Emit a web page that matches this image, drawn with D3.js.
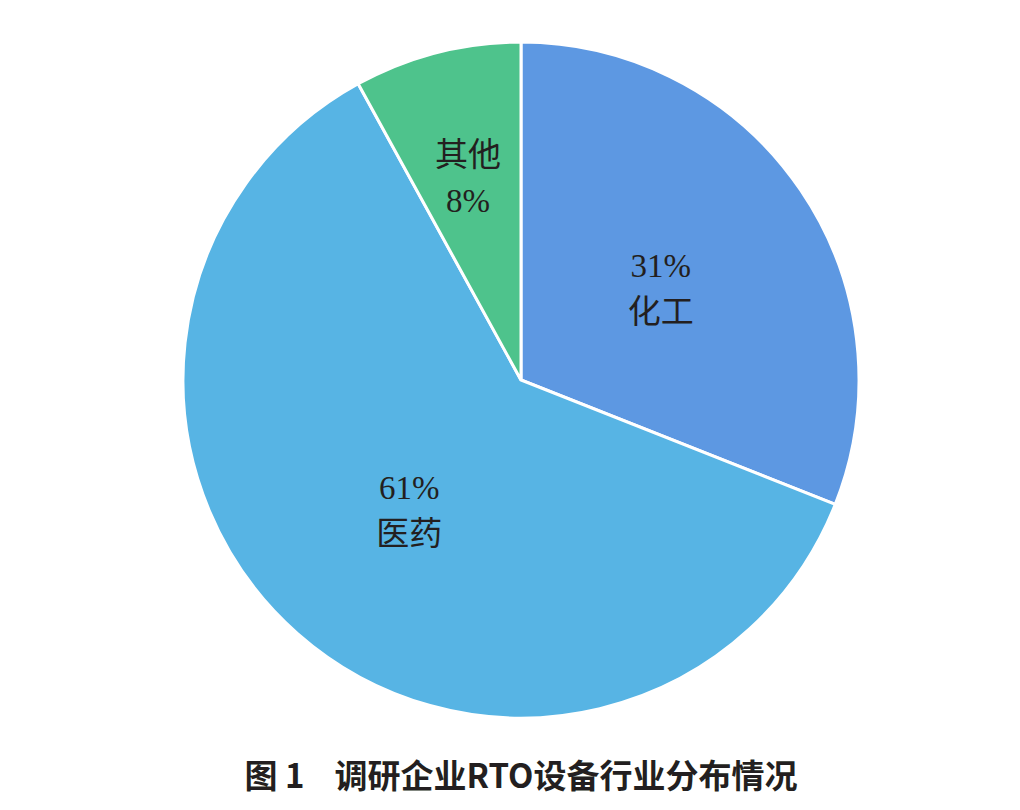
<!DOCTYPE html>
<html lang="zh">
<head>
<meta charset="UTF-8">
<script src="https://d3js.org/d3.v7.min.js"></script>
<style>
  body { margin: 0; background: #fff; }
  text { fill: #231f20; }
</style>
</head>
<body>
<svg id="chart" width="1020" height="810"></svg>
<script>
  const categories = ["化工", "医药", "其他"];
  const shares = [31, 61, 8];
  const colors = ["#5d98e2", "#57b4e4", "#4ec38c"];
  // which line comes first in each label
  const pctFirst = [true, true, false];

  const cx = 521, cy = 380, radius = 338;
  const svg = d3.select("#chart");
  const g = svg.append("g").attr("transform", `translate(${cx},${cy})`);

  const pie = d3.pie().sort(null).value(d => d)(shares);
  const arc = d3.arc().innerRadius(0).outerRadius(radius);

  g.selectAll("path")
    .data(pie)
    .enter()
    .append("path")
    .attr("d", arc)
    .attr("fill", (d, i) => colors[i])
    .attr("stroke", "#fff")
    .attr("stroke-width", 3);

  const labelArc = d => {
    const r = d.data < 10 ? radius * 0.63 : radius * 0.5;
    return d3.arc().innerRadius(r).outerRadius(r).centroid(d);
  };

  pie.forEach((d, i) => {
    const [x, y] = labelArc(d);
    const lines = pctFirst[i] ? [shares[i] + "%", categories[i]] : [categories[i], shares[i] + "%"];
    const t = g.append("text")
      .attr("text-anchor", "middle")
      .attr("font-size", 33)
      .attr("font-family", "'Liberation Serif', 'Noto Sans CJK SC', serif");
    lines.forEach((s, j) => {
      t.append("tspan")
        .attr("x", x)
        .attr("y", y + (j === 0 ? -8 : 38))
        .text(s);
    });
  });

  svg.append("text")
    .attr("x", 521)
    .attr("y", 788)
    .attr("text-anchor", "middle")
    .attr("font-size", 33)
    .attr("font-weight", "bold")
    .attr("font-family", "'Noto Sans CJK SC', sans-serif")
    .attr("xml:space", "preserve")
    .text("图 1    调研企业RTO设备行业分布情况");
</script>
</body>
</html>
